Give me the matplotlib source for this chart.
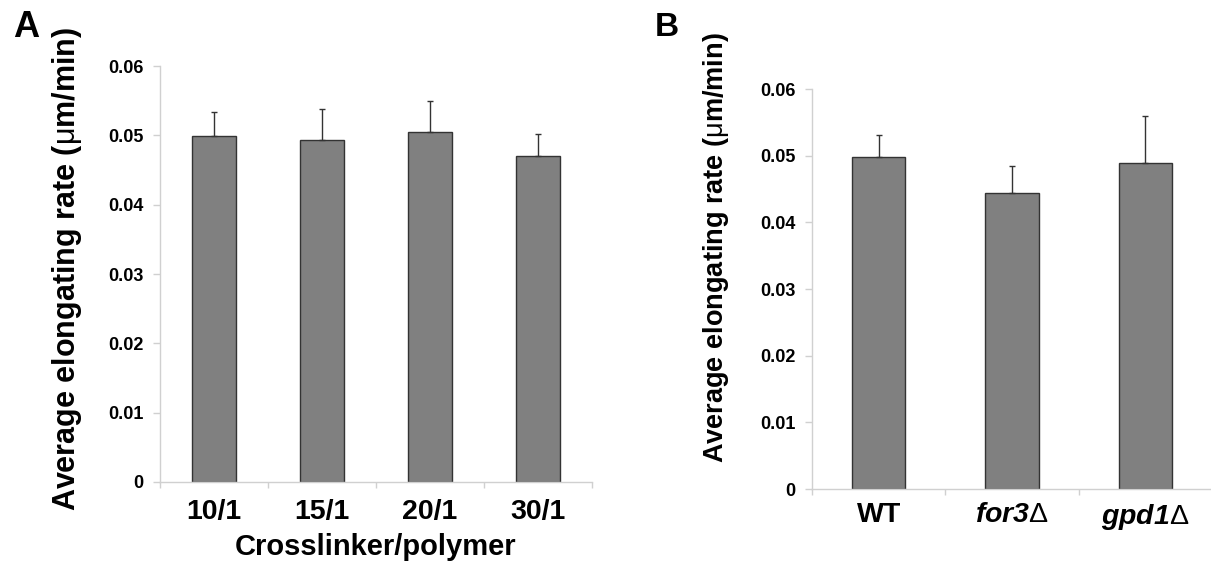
import numpy as np
import matplotlib
matplotlib.use('Agg')
import matplotlib.pyplot as plt
from matplotlib.ticker import FuncFormatter, FixedLocator

plt.rcParams['font.family'] = ['Liberation Sans', 'DejaVu Sans']
plt.rcParams['mathtext.fontset'] = 'custom'
plt.rcParams['mathtext.rm'] = 'Liberation Sans'
plt.rcParams['mathtext.it'] = 'Liberation Sans:italic:bold'
plt.rcParams['mathtext.bfit'] = 'Liberation Sans:italic:bold'

# panel A
ratio_labels = ['10/1', '15/1', '20/1', '30/1']
ratio_means = [0.0499, 0.0493, 0.0505, 0.0470]
ratio_err = [0.0034, 0.0045, 0.0045, 0.0032]

# panel B
strain_labels = ['WT', r'$\mathbfit{for3}\Delta$', r'$\mathbfit{gpd1}\Delta$']
strain_means = [0.0498, 0.0444, 0.0489]
strain_err = [0.0033, 0.0040, 0.0071]

yticks = [0, 0.01, 0.02, 0.03, 0.04, 0.05, 0.06]
ylab = r'Average elongating rate ($\mathrm{\mu}$m/min)'

W, H = 1211, 562
fig = plt.figure(figsize=(W / 100, H / 100), dpi=100)


def px_axes(l, r, b, t):
    return fig.add_axes([l / W, 1 - b / H, (r - l) / W, (b - t) / H])


def style(ax, labels, means, err, lab_size, xpad):
    n = len(labels)
    x = np.arange(n)
    ax.bar(x, means, width=0.4, color='#808080', edgecolor='#333333', linewidth=1, zorder=2)
    ax.errorbar(x, means, yerr=[np.zeros(n), err], fmt='none', ecolor='#333333',
                elinewidth=1, capsize=2.5, capthick=1, zorder=3)
    ax.set_xlim(-0.5, n - 0.5)
    ax.set_ylim(0, 0.06)
    ax.set_yticks(yticks)
    ax.yaxis.set_major_formatter(FuncFormatter(lambda v, p: '0' if v == 0 else '%.2f' % v))
    ax.set_xticks(x)
    ax.set_xticklabels(labels, fontsize=lab_size, fontweight='bold')
    ax.xaxis.set_minor_locator(FixedLocator(np.arange(n + 1) - 0.5))
    ax.tick_params(axis='x', which='major', length=0, pad=xpad)
    ax.tick_params(axis='x', which='minor', length=4, color='#d0d0d0', width=1)
    ax.tick_params(axis='y', length=5, color='#d0d0d0', width=1, pad=7, labelsize=13)
    for t in ax.get_yticklabels():
        t.set_fontweight('bold')
    for s in ['top', 'right']:
        ax.spines[s].set_visible(False)
    for s in ['left', 'bottom']:
        ax.spines[s].set_color('#d0d0d0')
        ax.spines[s].set_linewidth(1)


axA = px_axes(160, 592, 482, 66)
style(axA, ratio_labels, ratio_means, ratio_err, 20.5, 12)
axA.set_xlabel('Crosslinker/polymer', fontsize=21, fontweight='bold', labelpad=6)
fig.text(67 / W, 1 - 269 / H, ylab, rotation=90, ha='center', va='center',
         fontsize=22, fontweight='bold')

axB = px_axes(812, 1212, 489, 89)
style(axB, strain_labels, strain_means, strain_err, 20.5, 9)
fig.text(716 / W, 1 - 248 / H, ylab, rotation=90, ha='center', va='center',
         fontsize=19.5, fontweight='bold')

fig.text(13 / W, 1 - 10 / H, 'A', fontsize=26, fontweight='bold', va='top', ha='left')
fig.text(655 / W, 1 - 12 / H, 'B', fontsize=24, fontweight='bold', va='top', ha='left')

fig.savefig('out.png', dpi=100)
